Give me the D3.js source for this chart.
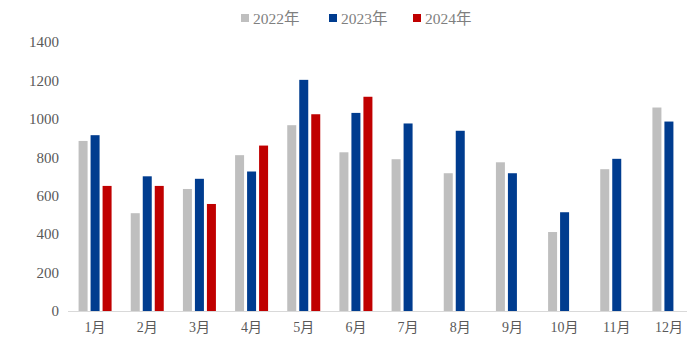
<!DOCTYPE html>
<html>
<head>
<meta charset="utf-8">
<script src="https://cdn.jsdelivr.net/npm/d3@7"></script>
<style>
  html, body { margin: 0; padding: 0; background: #fff; }
  svg { display: block; }
  text { font-family: "Liberation Serif", "Noto Sans CJK SC", serif; }
</style>
</head>
<body>
<svg id="chart" width="687" height="342"></svg>
<script>
const months = ["1月","2月","3月","4月","5月","6月","7月","8月","9月","10月","11月","12月"];
const seriesNames = ["2022年","2023年","2024年"];
const values2022 = [885, 509, 635, 811, 967, 826, 790, 717, 774, 411, 738, 1059];
const values2023 = [915, 701, 688, 726, 1203, 1031, 976, 938, 717, 514, 792, 986];
const values2024 = [651, 651, 557, 861, 1024, 1115, null, null, null, null, null, null];
const yTicks = [0, 200, 400, 600, 800, 1000, 1200, 1400];
const colors = ["#BFBFBF", "#003C8F", "#C00000"];

const seriesValues = [values2022, values2023, values2024];
const svg = d3.select("#chart");
const serifFont = '"Liberation Serif", "Noto Sans CJK SC", serif';

const x0 = d3.scaleBand().domain(months).range([69, 695]);
const x1 = d3.scaleBand().domain(seriesNames).range([0, 33]).paddingInner(0.25);
const y = d3.scaleLinear().domain([0, 1400]).range([311, 42]);

// y axis labels
const yAxis = d3.axisLeft(y).tickValues(yTicks).tickSize(0).tickPadding(0).tickFormat(d3.format("d"));
const gy = svg.append("g").attr("transform", "translate(59,0)").call(yAxis);
gy.select(".domain").remove();
gy.selectAll("text").attr("fill", "#595959").style("font-size", "15px")
  .style("font-family", serifFont);

// bars
const data = [];
months.forEach((m, i) => {
  seriesNames.forEach((s, j) => {
    const v = seriesValues[j][i];
    if (v != null) data.push({ m, s, v, j });
  });
});
svg.append("g").selectAll("rect").data(data).join("rect")
  .attr("x", d => x0(d.m) + x0.bandwidth() / 2 - 16.5 + x1(d.s))
  .attr("y", d => y(d.v))
  .attr("width", x1.bandwidth())
  .attr("height", d => y(0) - y(d.v))
  .attr("fill", d => colors[d.j]);

// x axis
const xAxis = d3.axisBottom(x0).tickSize(0).tickPadding(11);
const gx = svg.append("g").attr("transform", `translate(0,${y(0)})`).call(xAxis);
gx.select(".domain").remove();
gx.selectAll("text").attr("fill", "#595959").style("font-size", "14px")
  .style("font-family", serifFont);
svg.append("line")
  .attr("x1", 68).attr("x2", 687)
  .attr("y1", y(0) + 0.5).attr("y2", y(0) + 0.5)
  .attr("stroke", "#D9D9D9").attr("stroke-width", 1);

// legend
const legendX = [241, 329, 413];
const lg = svg.append("g").selectAll("g").data(seriesNames).join("g")
  .attr("transform", (d, i) => `translate(${legendX[i]},0)`);
lg.append("rect").attr("x", 0).attr("y", 14).attr("width", 8).attr("height", 8)
  .attr("fill", (d, i) => colors[i]);
lg.append("text").attr("x", 12).attr("y", 23.5).text(d => d)
  .attr("fill", "#7F7F7F").style("font-size", "15.5px")
  .style("font-family", serifFont);
</script>
</body>
</html>
